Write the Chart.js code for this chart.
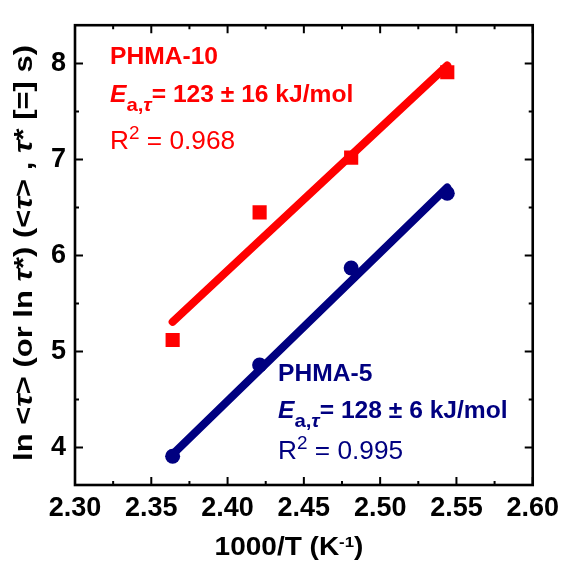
<!DOCTYPE html>
<html><head><meta charset="utf-8">
<script src="https://cdn.jsdelivr.net/npm/chart.js@4.4.1/dist/chart.umd.min.js"></script>
<style>html,body{margin:0;padding:0;background:#fff;}#c{display:block;}</style>
</head><body>
<canvas id="c" width="566" height="566"></canvas>
<script>
// ---- data ----
const xTicks = [2.30, 2.35, 2.40, 2.45, 2.50, 2.55, 2.60];
const xMinor = [2.325, 2.375, 2.425, 2.475, 2.525, 2.575];
const yTicks = [4, 5, 6, 7, 8];
const yMinor = [4.5, 5.5, 6.5, 7.5];
const invT = [2.364, 2.421, 2.481, 2.544];
const lnTauPHMA10 = [5.12, 6.45, 7.02, 7.91];
const lnTauPHMA5 = [3.91, 4.86, 5.87, 6.65];
const fitX = [2.364, 2.544];
const fitPHMA10 = [5.31, 7.98];
const fitPHMA5 = [3.93, 6.71];

const RED = '#FF0000', BLUE = '#000080';
const FAM = '"Liberation Sans", Arial, sans-serif';

const pts = (xs, ys) => xs.map((x, i) => ({x, y: ys[i]}));

function drawRich(ctx, segs, x, y, align, sx) {
  ctx.save();
  let w = 0;
  segs.forEach(s => { ctx.font = s.font; s.w = ctx.measureText(s.t).width; w += s.w; });
  ctx.translate(x, y);
  ctx.scale(sx, 1);
  let cx = align === 'center' ? -w / 2 : 0;
  ctx.textBaseline = 'alphabetic';
  ctx.textAlign = 'left';
  segs.forEach(s => {
    ctx.font = s.font;
    ctx.fillStyle = s.color;
    ctx.fillText(s.t, cx, s.dy || 0);
    cx += s.w;
  });
  ctx.restore();
}

const B = (s) => 'bold ' + s + 'px ' + FAM;
const BI = (s) => 'italic bold ' + s + 'px ' + FAM;
const N = (s) => s + 'px ' + FAM;

function annotate(ctx, name, ea, r2, color, x, y1, y2, y3) {
  drawRich(ctx, [{t: name, font: B(23), color}], x, y1, 'left', 1.07);
  drawRich(ctx, [
    {t: 'E', font: BI(23), color},
    {t: 'a,', font: B(19), color, dy: 9},
    {t: 'τ', font: BI(19), color, dy: 9},
    {t: '= ' + ea + ' kJ/mol', font: B(23), color}
  ], x, y2, 'left', 1.07);
  drawRich(ctx, [
    {t: 'R', font: N(25), color},
    {t: '2', font: N(18), color, dy: -10},
    {t: ' = ' + r2, font: N(25), color}
  ], x, y3, 'left', 1.05);
}

const framePlugin = {
  id: 'frame',
  afterDatasetsDraw(chart) {
    const {ctx, chartArea: a, scales: {x, y}} = chart;
    ctx.save();
    ctx.strokeStyle = '#000';
    ctx.lineWidth = 2;
    ctx.beginPath();
    xTicks.forEach(v => { const p = x.getPixelForValue(v);
      ctx.moveTo(p, a.bottom); ctx.lineTo(p, a.bottom - 8);
      ctx.moveTo(p, a.top); ctx.lineTo(p, a.top + 8); });
    xMinor.forEach(v => { const p = x.getPixelForValue(v);
      ctx.moveTo(p, a.bottom); ctx.lineTo(p, a.bottom - 4);
      ctx.moveTo(p, a.top); ctx.lineTo(p, a.top + 4); });
    yTicks.forEach(v => { const p = y.getPixelForValue(v);
      ctx.moveTo(a.left, p); ctx.lineTo(a.left + 8, p);
      ctx.moveTo(a.right, p); ctx.lineTo(a.right - 8, p); });
    yMinor.forEach(v => { const p = y.getPixelForValue(v);
      ctx.moveTo(a.left, p); ctx.lineTo(a.left + 4, p);
      ctx.moveTo(a.right, p); ctx.lineTo(a.right - 4, p); });
    ctx.stroke();
    ctx.lineWidth = 2.6;
    ctx.strokeRect(a.left, a.top, a.right - a.left, a.bottom - a.top);
    ctx.restore();

    annotate(ctx, 'PHMA-10', '123 ± 16', '0.968', RED, 110, 64, 102, 149);
    annotate(ctx, 'PHMA-5', '128 ± 6', '0.995', BLUE, 278, 381, 418, 459);

    // x title
    drawRich(ctx, [
      {t: '1000/T (K', font: B(25), color: '#000'},
      {t: '-1', font: B(15), color: '#000', dy: -8},
      {t: ')', font: B(25), color: '#000'}
    ], 289, 555, 'center', 1.12);

    // y title (rotated)
    ctx.save();
    ctx.translate(32, 253);
    ctx.rotate(-Math.PI / 2);
    drawRich(ctx, [
      {t: 'ln <', font: B(26), color: '#000'},
      {t: 'τ', font: BI(26), color: '#000'},
      {t: '> (or ln ', font: B(26), color: '#000'},
      {t: 'τ', font: BI(26), color: '#000'},
      {t: '*) (<', font: B(26), color: '#000'},
      {t: 'τ', font: BI(26), color: '#000'},
      {t: '> , ', font: B(26), color: '#000'},
      {t: 'τ', font: BI(26), color: '#000'},
      {t: '* [=] s)', font: B(26), color: '#000'}
    ], 0, 0, 'center', 1.19);
    ctx.restore();
  }
};

new Chart(document.getElementById('c'), {
  type: 'scatter',
  data: {
    datasets: [
      {label: 'PHMA-10 data', data: pts(invT, lnTauPHMA10), pointStyle: 'rect', pointRadius: 10,
       backgroundColor: RED, borderColor: RED, borderWidth: 0, showLine: false},
      {label: 'PHMA-5 data', data: pts(invT, lnTauPHMA5), pointStyle: 'circle', pointRadius: 7.5,
       backgroundColor: BLUE, borderColor: BLUE, borderWidth: 0, showLine: false},
      {label: 'PHMA-10 fit', data: pts(fitX, fitPHMA10), showLine: true, pointRadius: 0,
       borderColor: RED, borderWidth: 8, borderCapStyle: 'round', fill: false},
      {label: 'PHMA-5 fit', data: pts(fitX, fitPHMA5), showLine: true, pointRadius: 0,
       borderColor: BLUE, borderWidth: 8, borderCapStyle: 'round', fill: false}
    ]
  },
  options: {
    responsive: false,
    animation: false,
    events: [],
    layout: {padding: {left: 0, right: 29, top: 14, bottom: 0}},
    plugins: {legend: {display: false}, tooltip: {enabled: false}},
    scales: {
      x: {
        type: 'linear', min: 2.30, max: 2.60,
        afterBuildTicks: s => { s.ticks = xTicks.map(v => ({value: v})); },
        afterFit: s => { s.height = 81; },
        grid: {display: false, drawTicks: false},
        border: {display: false},
        ticks: {color: '#000', padding: 7, maxRotation: 0, autoSkip: false,
          font: {family: FAM, size: 27, weight: 'bold'},
          callback: v => Number(v).toFixed(2)}
      },
      y: {
        type: 'linear', min: 3.61, max: 8.4,
        afterBuildTicks: s => { s.ticks = yTicks.map(v => ({value: v})); },
        afterFit: s => { s.width = 75; },
        grid: {display: false, drawTicks: false},
        border: {display: false},
        ticks: {color: '#000', padding: 9, autoSkip: false,
          font: {family: FAM, size: 27, weight: 'bold'},
          callback: v => String(v)}
      }
    }
  },
  plugins: [framePlugin]
});
</script>
</body></html>
